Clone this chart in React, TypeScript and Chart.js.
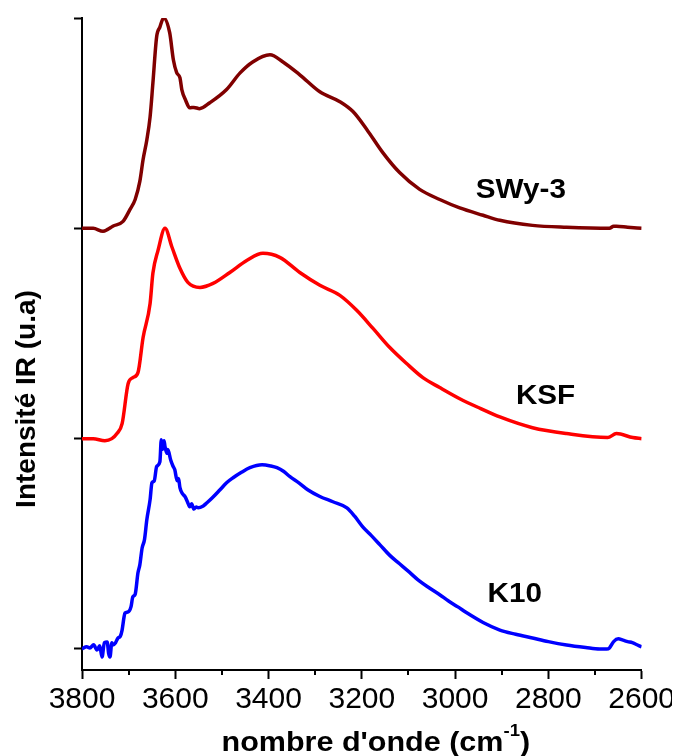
import React, { useEffect, useRef } from 'react';
import { Chart, registerables } from 'chart.js';

Chart.register(...registerables);

// ---- Data (wavenumber cm-1, stacked intensity) ----
const swyWn = [3800, 3776, 3755, 3745, 3734, 3712, 3697, 3686, 3676, 3669, 3661, 3654, 3648, 3640, 3633, 3625, 3612, 3604, 3597, 3590, 3586, 3578, 3569, 3560, 3548, 3526, 3490, 3461, 3434, 3397, 3369, 3333, 3290, 3247, 3219, 3189, 3155, 3119, 3076, 3033, 2990, 2940, 2904, 2834, 2761, 2669, 2660, 2654, 2630, 2600];
const swyVal = [2.0, 2.0, 1.986, 1.995, 2.01, 2.033, 2.09, 2.137, 2.223, 2.327, 2.42, 2.53, 2.69, 2.91, 2.957, 3.0, 2.93, 2.8, 2.74, 2.716, 2.66, 2.61, 2.573, 2.575, 2.569, 2.597, 2.66, 2.739, 2.791, 2.825, 2.791, 2.73, 2.649, 2.602, 2.555, 2.469, 2.36, 2.265, 2.185, 2.137, 2.097, 2.062, 2.038, 2.014, 2.005, 2.0, 2.01, 2.01, 2.005, 2.0];

const ksfWn = [3800, 3776, 3751, 3736, 3725, 3714, 3701, 3691, 3680, 3669, 3654, 3648, 3637, 3622, 3607, 3590, 3573, 3547, 3519, 3483, 3446, 3412, 3376, 3333, 3290, 3247, 3211, 3176, 3140, 3104, 3069, 3033, 2990, 2945, 2904, 2834, 2761, 2673, 2654, 2619, 2600];
const ksfVal = [1.0, 1.0, 0.99, 1.0, 1.024, 1.071, 1.262, 1.29, 1.314, 1.481, 1.643, 1.786, 1.895, 2.0, 1.91, 1.81, 1.743, 1.719, 1.738, 1.79, 1.848, 1.881, 1.862, 1.79, 1.729, 1.681, 1.61, 1.524, 1.433, 1.357, 1.29, 1.243, 1.19, 1.143, 1.103, 1.052, 1.024, 1.005, 1.024, 1.005, 1.0];

const k10Wn = [3800, 3790, 3783, 3775, 3768, 3762, 3757, 3752, 3746, 3743, 3740, 3736, 3734, 3728, 3723, 3718, 3714, 3710, 3708, 3701, 3695, 3691, 3686, 3680, 3676, 3671, 3666, 3661, 3654, 3650, 3645, 3640, 3633, 3630, 3627, 3624, 3622, 3618, 3616, 3610, 3605, 3601, 3596, 3593, 3590, 3585, 3579, 3574, 3569, 3565, 3560, 3555, 3551, 3540, 3532, 3520, 3504, 3490, 3476, 3458, 3440, 3414, 3395, 3382, 3368, 3354, 3335, 3316, 3290, 3262, 3232, 3215, 3198, 3180, 3161, 3140, 3119, 3098, 3076, 3055, 3033, 3014, 2994, 2975, 2940, 2904, 2870, 2834, 2800, 2761, 2720, 2690, 2675, 2669, 2660, 2650, 2640, 2630, 2620, 2610, 2600];
const k10Val = [0, 0.01, 0.005, 0.02, -0.005, 0.015, -0.038, 0.03, 0.033, -0.02, -0.038, 0.03, 0.019, 0.03, 0.052, 0.06, 0.09, 0.15, 0.171, 0.176, 0.2, 0.248, 0.26, 0.362, 0.4, 0.481, 0.52, 0.614, 0.71, 0.79, 0.8, 0.867, 0.89, 0.995, 0.95, 0.99, 0.962, 0.93, 0.948, 0.9, 0.87, 0.852, 0.8, 0.81, 0.767, 0.74, 0.724, 0.7, 0.676, 0.69, 0.665, 0.675, 0.671, 0.68, 0.695, 0.72, 0.757, 0.79, 0.814, 0.84, 0.862, 0.876, 0.87, 0.862, 0.845, 0.819, 0.79, 0.757, 0.725, 0.7, 0.671, 0.63, 0.581, 0.54, 0.495, 0.445, 0.405, 0.365, 0.322, 0.29, 0.258, 0.228, 0.2, 0.172, 0.126, 0.09, 0.07, 0.052, 0.035, 0.019, 0.007, 0, 0, 0.005, 0.035, 0.048, 0.042, 0.035, 0.03, 0.02, 0.01];

const seriesNames = ['SWy-3', 'KSF', 'K10'];
const seriesColors = ['#800000', '#ff0000', '#0000ff'];
// label anchors in data coordinates (wavenumber, intensity)
const labelWn = [2859, 2806, 2872];
const labelY = [2.18, 1.2, 0.26];

const yTickValues = [0, 1, 2, 3];
const xMinorTicks = [2700, 2900, 3100, 3300, 3500, 3700];
const xTitleMain = "nombre d'onde (cm";
const xTitleSup = '-1';
const xTitleEnd = ')';
const yTitle = 'Intensité IR (u.a)';

const FONT = '"Liberation Sans", Arial, sans-serif';

function toPoints(xs: number[], ys: number[]) {
  return xs.map((x, i) => ({ x, y: ys[i] }));
}

const decorPlugin = {
  id: 'decor',
  afterDraw(chart: any) {
    const { ctx, chartArea, scales } = chart;
    const xs = scales.x;
    const ys = scales.y;
    ctx.save();
    // minor ticks
    ctx.strokeStyle = '#000';
    ctx.lineWidth = 2;
    xMinorTicks.forEach((v) => {
      const px = Math.round(xs.getPixelForValue(v));
      ctx.beginPath();
      ctx.moveTo(px, chartArea.bottom);
      ctx.lineTo(px, chartArea.bottom + 5);
      ctx.stroke();
    });
    // series labels (slightly stretched horizontally like the original)
    ctx.fillStyle = '#000';
    ctx.font = `bold 28px ${FONT}`;
    ctx.textAlign = 'center';
    ctx.textBaseline = 'middle';
    seriesNames.forEach((name, i) => {
      ctx.save();
      ctx.translate(xs.getPixelForValue(labelWn[i]), ys.getPixelForValue(labelY[i]));
      ctx.scale(1.06, 1);
      ctx.fillText(name, 0, 0);
      ctx.restore();
    });
    // x title with superscript
    const sx = 1.09;
    ctx.textAlign = 'left';
    ctx.textBaseline = 'alphabetic';
    ctx.font = `bold 28px ${FONT}`;
    const w1 = ctx.measureText(xTitleMain).width;
    const w3 = ctx.measureText(xTitleEnd).width;
    ctx.font = `bold 17px ${FONT}`;
    const w2 = ctx.measureText(xTitleSup).width;
    const total = w1 + w2 + w3;
    const cx = (chartArea.left + chartArea.right) / 2 + 14;
    const baseY = chartArea.bottom + 81;
    ctx.save();
    ctx.translate(cx, baseY);
    ctx.scale(sx, 1);
    let x0 = -total / 2;
    ctx.font = `bold 28px ${FONT}`;
    ctx.fillText(xTitleMain, x0, 0);
    x0 += w1;
    ctx.font = `bold 17px ${FONT}`;
    ctx.fillText(xTitleSup, x0, -15);
    x0 += w2;
    ctx.font = `bold 28px ${FONT}`;
    ctx.fillText(xTitleEnd, x0, 0);
    ctx.restore();
    // y title
    ctx.save();
    ctx.translate(chartArea.left - 55, (chartArea.top + chartArea.bottom) / 2 + 55);
    ctx.rotate(-Math.PI / 2);
    ctx.textAlign = 'center';
    ctx.textBaseline = 'middle';
    ctx.font = `bold 28px ${FONT}`;
    ctx.fillText(yTitle, 0, 0);
    ctx.restore();
    ctx.restore();
  },
};

export default function App() {
  const canvasRef = useRef<HTMLCanvasElement | null>(null);

  useEffect(() => {
    if (!canvasRef.current) return;
    const seriesData = [toPoints(swyWn, swyVal), toPoints(ksfWn, ksfVal), toPoints(k10Wn, k10Val)];
    const chart = new Chart(canvasRef.current, {
      type: 'line',
      data: {
        datasets: seriesNames.map((name, i) => ({
          label: name,
          data: seriesData[i],
          borderColor: seriesColors[i],
          borderWidth: 3.5,
          pointRadius: 0,
          fill: false,
          cubicInterpolationMode: 'monotone' as const,
        })),
      },
      options: {
        animation: false,
        responsive: true,
        maintainAspectRatio: false,
        layout: { padding: { left: 66, top: 10, right: 0, bottom: 35 } },
        plugins: { legend: { display: false }, tooltip: { enabled: false } },
        scales: {
          x: {
            type: 'linear',
            reverse: true,
            min: 2600,
            max: 3800,
            ticks: {
              stepSize: 100,
              autoSkip: false,
              maxRotation: 0,
              padding: 3,
              color: '#000',
              font: { size: 30, family: FONT },
              callback: (v: any) => (Number(v) % 200 === 0 ? String(v) : ''),
            },
            grid: {
              drawOnChartArea: false,
              tickLength: 9,
              tickWidth: 2,
              tickColor: (c: any) => (c.tick && c.tick.value % 200 === 0 ? '#000' : 'rgba(0,0,0,0)'),
            },
            border: { color: '#000', width: 2 },
          },
          y: {
            type: 'linear',
            min: -0.1,
            max: 3,
            afterBuildTicks: (axis: any) => {
              axis.ticks = yTickValues.map((value) => ({ value }));
            },
            ticks: { display: false },
            grid: { drawOnChartArea: false, tickLength: 8, tickWidth: 2, tickColor: '#000' },
            border: { color: '#000', width: 2 },
          },
        },
      },
      plugins: [decorPlugin],
    });
    return () => chart.destroy();
  }, []);

  return (
    <div style={{ width: 670, height: 748 }}>
      <canvas ref={canvasRef} />
    </div>
  );
}
